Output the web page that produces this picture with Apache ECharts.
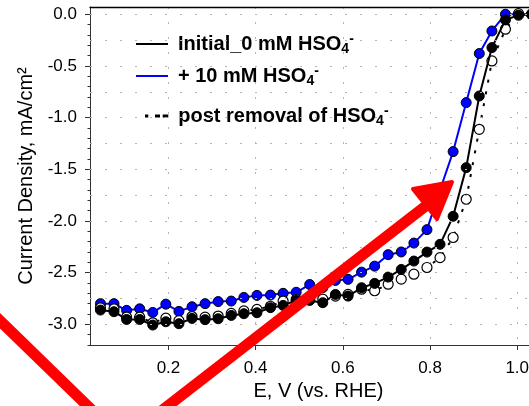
<!DOCTYPE html>
<html><head><meta charset="utf-8">
<script src="https://cdn.jsdelivr.net/npm/echarts@6/dist/echarts.min.js"></script>
<style>html,body{margin:0;padding:0;background:#fff}#c{width:529px;height:406px}</style>
</head><body><div id="c"></div>
<script>
// Potential (V vs RHE)
const E_V = [0.044, 0.075, 0.104, 0.134, 0.164, 0.194, 0.224, 0.254, 0.284, 0.314, 0.344, 0.373, 0.403,
  0.434, 0.463, 0.493, 0.524, 0.554, 0.583, 0.612, 0.643, 0.673, 0.704, 0.734, 0.763, 0.793, 0.823,
  0.853, 0.883, 0.913, 0.942, 0.973, 1.003, 1.033];
// Current density (mA/cm2)
const J_INITIAL = [-2.862, -2.878, -2.953, -2.953, -3.007, -2.975, -2.994, -2.943, -2.955, -2.946, -2.914, -2.897, -2.888,
  -2.839, -2.817, -2.769, -2.769, -2.791, -2.711, -2.727, -2.646, -2.604, -2.543, -2.469, -2.388, -2.301, -2.226,
  -1.955, -1.484, -0.791, -0.323, -0.055, -0.01, 0.0];
const J_HSO4 = [-2.80, -2.80, -2.865, -2.85, -2.885, -2.805, -2.875, -2.83, -2.80, -2.78, -2.775, -2.74, -2.72,
  -2.717, -2.70, -2.69, -2.615, -2.645, -2.575, -2.565, -2.495, -2.437, -2.326, -2.30, -2.214, -2.084, -1.70,
  -1.329, -0.855, -0.38, -0.162, 0.0, 0.0, 0.0];
const J_POST = [-2.84, -2.85, -2.93, -2.93, -2.985, -2.94, -2.965, -2.925, -2.93, -2.92, -2.895, -2.87, -2.855,
  -2.825, -2.775, -2.76, -2.76, -2.756, -2.727, -2.71, -2.66, -2.675, -2.612, -2.563, -2.515, -2.45, -2.355,
  -2.16, -1.79, -1.113, -0.452, -0.145, 0.005, 0.0];

const X_TICKS = [0.2, 0.4, 0.6, 0.8, 1.0];
const Y_TICKS = [0, -0.5, -1.0, -1.5, -2.0, -2.5, -3.0];
const Y_MINOR_TICKS = [0, -0.1, -0.2, -0.3, -0.4, -0.5, -0.6, -0.7, -0.8, -0.9, -1.0, -1.1, -1.2, -1.3, -1.4, -1.5,
  -1.6, -1.7, -1.8, -1.9, -2.0, -2.1, -2.2, -2.3, -2.4, -2.5, -2.6, -2.7, -2.8, -2.9, -3.0, -3.1, -3.2];
const Y_GRID = [0, -0.25, -0.5, -0.75, -1.0, -1.25, -1.5, -1.75, -2.0, -2.25, -2.5, -2.75, -3.0];

const SERIES_NAMES = ['Initial_0 mM HSO4-', '+ 10 mM HSO4-', 'post removal of HSO4-'];
const LEGEND_LABELS = ['Initial_0 mM HSO{sub|4}{sup|-}', '+ 10 mM HSO{sub|4}{sup|-}', 'post removal of HSO{sub|4}{sup|-}'];

const FONT = 'Arial, "Liberation Sans", sans-serif';
const pairs = (ys) => E_V.map((x, i) => [x, ys[i]]);

const chart = echarts.init(document.getElementById('c'), null, {renderer: 'canvas'});

const dotStyle = {color: '#b4b4b4', width: 1, type: [2, 13]};
const legendText = {
  fontSize: 20, fontWeight: 'bold', fontFamily: FONT, color: '#000', lineHeight: 24, padding: [0, 0, 0, 5],
  rich: {
    sub: {fontSize: 14, fontWeight: 'bold', fontFamily: FONT, color: '#000', verticalAlign: 'bottom', lineHeight: 8},
    sup: {fontSize: 14, fontWeight: 'bold', fontFamily: FONT, color: '#000', verticalAlign: 'top', lineHeight: 12}
  }
};
const legendIcons = ['rect', 'rect', 'path://M0,0h3.3v3h-3.3z M10,0h5v3h-5z M17.7,0h5.6v3h-5.6z'];
const legendColors = ['#000', '#0000ff', '#000'];
const legendLeft = [136, 136, 145];
const legendTop = [32, 64, 104];
const legendW = [32, 32, 23.3];
const legendH = [2, 2, 3];

chart.setOption({
  animation: false,
  backgroundColor: '#fff',
  grid: {left: 90, top: 7, width: 449, height: 338, containLabel: false, outerBoundsMode: 'none'},
  legend: SERIES_NAMES.map((n, i) => ({
    data: [{name: n, icon: legendIcons[i], itemStyle: {color: legendColors[i], borderWidth: 0}}],
    left: legendLeft[i], top: legendTop[i], padding: 0, orient: 'vertical',
    itemWidth: legendW[i], itemHeight: legendH[i], selectedMode: false,
    formatter: () => LEGEND_LABELS[i],
    textStyle: legendText
  })),
  xAxis: [
    {
      type: 'value', min: 0.02, max: 1.05, position: 'bottom',
      axisLine: {show: true, onZero: false, lineStyle: {color: '#333', width: 1}},
      axisTick: {show: true, customValues: X_TICKS, length: 5, lineStyle: {color: '#333'}},
      axisLabel: {customValues: X_TICKS, formatter: v => v.toFixed(1), fontSize: 17, fontFamily: FONT, color: '#000', margin: 15},
      splitLine: {show: true, lineStyle: dotStyle},
      name: 'E, V (vs. RHE)', nameLocation: 'middle', nameGap: 36,
      nameTextStyle: {fontSize: 20, fontFamily: FONT, color: '#000', padding: [0, 0, 0, 8]}
    },
    {
      type: 'value', min: 0.02, max: 1.05, position: 'top',
      axisLine: {show: true, onZero: false, lineStyle: {color: '#000', width: 1.3}},
      axisTick: {show: false}, axisLabel: {show: false}, splitLine: {show: false}
    }
  ],
  yAxis: [
    {
      type: 'value', min: -3.2, max: 0.07, position: 'left',
      axisLine: {show: true, onZero: false, lineStyle: {color: '#333', width: 1}},
      axisTick: {show: true, customValues: Y_TICKS, length: 5, lineStyle: {color: '#333'}},
      axisLabel: {customValues: Y_TICKS, formatter: v => v.toFixed(1), fontSize: 17, fontFamily: FONT, color: '#000', margin: 13},
      splitLine: {show: false},
      name: 'Current Density, mA/cm²', nameLocation: 'middle', nameGap: 53,
      nameTextStyle: {fontSize: 20, fontFamily: FONT, color: '#000'}
    },
    {
      type: 'value', min: -3.2, max: 0.07, position: 'left',
      axisLine: {show: false, onZero: false},
      axisTick: {show: true, customValues: Y_MINOR_TICKS, length: 2.5, lineStyle: {color: '#333'}},
      axisLabel: {show: false}, splitLine: {show: false}
    }
  ],
  series: [
    {
      name: 'grid', type: 'line', data: [], z: 1, silent: true,
      markLine: {
        silent: true, symbol: ['none', 'none'], label: {show: false}, animation: false,
        lineStyle: dotStyle, emphasis: {disabled: true},
        data: Y_GRID.map(v => ({yAxis: v}))
      }
    },
    {
      name: SERIES_NAMES[1], type: 'line', data: pairs(J_HSO4), symbol: 'circle', symbolSize: 10, z: 2,
      itemStyle: {color: '#0000ff', borderColor: '#000', borderWidth: 1},
      lineStyle: {color: '#0000ff', width: 2}
    },
    {
      name: SERIES_NAMES[2], type: 'line', data: pairs(J_POST), symbol: 'circle', symbolSize: 10, z: 3,
      itemStyle: {color: '#fff', borderColor: '#000', borderWidth: 1.2},
      lineStyle: {color: '#000', width: 2, type: [3, 9]}
    },
    {
      name: SERIES_NAMES[0], type: 'line', data: pairs(J_INITIAL), symbol: 'circle', symbolSize: 10, z: 4,
      itemStyle: {color: '#000', borderColor: '#000', borderWidth: 1},
      lineStyle: {color: '#000', width: 2}
    }
  ],
  graphic: [
    {type: 'line', z: 100, shape: {x1: -10, y1: 311, x2: 98, y2: 416}, style: {stroke: '#ff0000', lineWidth: 11}},
    {type: 'line', z: 100, shape: {x1: 160, y1: 412, x2: 436, y2: 198}, style: {stroke: '#ff0000', lineWidth: 11}},
    {type: 'polygon', z: 100, shape: {points: [[452, 182], [413, 189], [437, 219]]},
     style: {fill: '#ff0000', stroke: '#ff0000', lineWidth: 4, lineJoin: 'round'}}
  ]
});
</script>
</body></html>
